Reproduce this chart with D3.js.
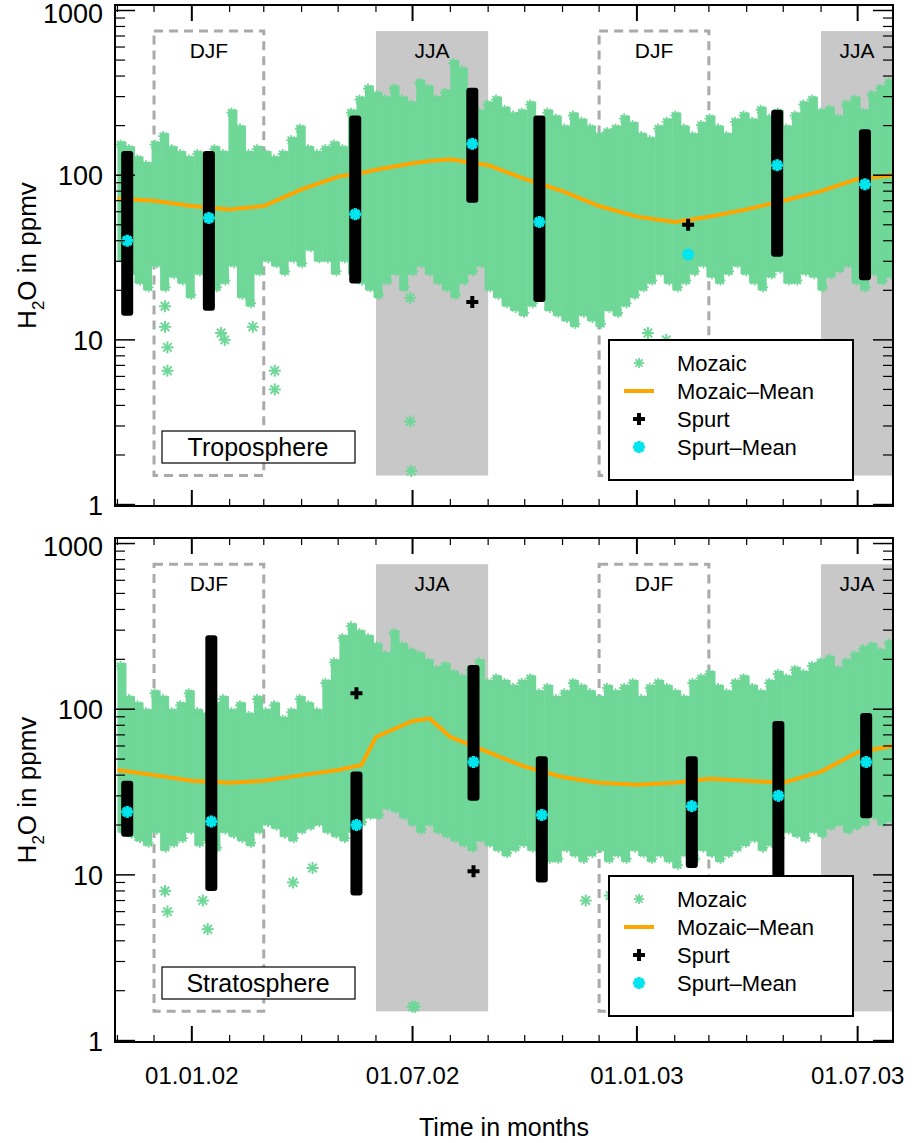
<!DOCTYPE html>
<meta charset="utf-8">
<script src="https://d3js.org/d3.v7.min.js"></script>
<style>
  body { margin: 0; background: #fff; }
  text { font-family: "Liberation Sans", Arial, sans-serif; }
</style>
<div id="chart"></div>
<script>
// ---- data ----
const weekStart = "2001-11-01"; // Mozaic columns are weekly from this date
const tropLow  = [30,25,22,20,28,20,24,22,18,25,16,20,22,28,18,16,25,30,28,25,30,28,35,30,30,25,30,25,22,20,18,22,25,20,25,28,25,22,20,18,22,25,28,20,18,16,15,14,16,18,15,14,13,12,14,13,12,15,14,16,18,20,22,25,22,20,22,25,28,24,22,25,28,25,22,20,24,26,22,22,25,24,20,24,26,28,22,20,25,22,24];
const tropHigh = [160,150,130,120,160,180,150,140,130,140,130,150,140,250,200,140,150,140,130,140,170,200,150,140,150,160,150,250,300,350,320,300,350,300,280,380,350,300,330,500,450,300,250,280,300,260,240,250,280,220,250,230,200,240,220,200,180,190,200,230,210,180,170,200,220,240,200,180,210,230,200,180,220,240,220,260,230,250,200,240,280,300,250,260,230,280,300,250,320,350,380];
const stratLow  = [18,17,16,15,18,14,15,16,18,15,16,14,18,17,16,15,18,20,19,17,16,18,19,20,18,17,16,18,20,22,22,25,24,22,20,18,20,18,17,16,15,14,16,15,14,13,14,15,14,13,12,12,14,13,12,13,14,12,13,12,14,13,12,13,12,11,13,12,14,13,12,13,14,15,16,14,15,16,18,17,16,18,17,19,20,18,19,20,22,20,21];
const stratHigh = [190,120,110,100,130,120,100,110,130,100,95,110,120,100,110,95,120,100,110,90,100,120,110,100,150,200,280,330,300,280,250,220,300,250,230,220,200,180,190,170,160,180,200,150,160,150,140,150,160,130,140,120,130,150,140,130,120,140,130,140,150,120,140,150,140,130,120,150,160,170,140,130,150,160,140,130,150,170,160,180,170,190,200,210,180,200,220,240,250,230,260];

// isolated Mozaic points: [date, value]
const tropOutliers  = [["2001-12-10",16],["2001-12-10",12],["2001-12-12",9],["2001-12-12",6.5],["2002-01-25",11],["2002-01-28",10],["2002-03-10",6.5],["2002-03-10",5],["2002-02-20",12],["2002-06-29",3.2],["2002-06-30",1.6],["2002-06-29",18],["2003-01-10",11],["2003-01-25",10]];
const stratOutliers = [["2001-12-10",8],["2001-12-12",6],["2002-01-14",4.7],["2002-01-10",7],["2002-03-25",9],["2002-04-10",11],["2002-07-01",1.6],["2002-07-03",1.6],["2002-11-20",7],["2002-12-10",7.5],["2003-02-01",8]];

// Spurt campaigns: date, min, max, mean
const tropSpurt = [
  ["2001-11-09",14,140,40],["2002-01-15",15,140,55],["2002-05-15",22,230,58],
  ["2002-08-19",68,340,155],["2002-10-13",17,230,52],["2003-04-26",32,250,115],["2003-07-07",23,190,88]];
const tropSpurtPts  = [["2002-08-19",17],["2003-02-12",50]];
const tropSpurtMeanPts = [["2003-02-12",33]];
const stratSpurt = [
  ["2001-11-09",17,37,24],["2002-01-17",8,280,21],["2002-05-16",7.5,42,20],
  ["2002-08-20",28,185,48],["2002-10-15",9,52,23],["2003-02-15",11,52,26],["2003-04-27",7,85,30],["2003-07-08",22,95,48]];
const stratSpurtPts = [["2002-05-16",125],["2002-08-20",10.5]];
const stratSpurtMeanPts = [];

// Mozaic mean, roughly every half month
const meanDates = ["2001-11-01","2001-12-01","2002-01-01","2002-02-01","2002-03-01","2002-04-01","2002-05-01","2002-05-20","2002-06-01","2002-07-01","2002-07-15","2002-08-01","2002-09-01","2002-10-01","2002-11-01","2002-12-01","2003-01-01","2003-02-01","2003-03-01","2003-04-01","2003-05-01","2003-06-01","2003-07-01","2003-07-30"];
const tropMean  = [72,70,65,62,65,82,98,103,108,118,122,125,115,95,80,65,56,52,56,62,70,80,95,100];
const stratMean = [43,40,37,36,37,40,43,46,68,85,88,68,55,45,39,36,35,36,38,37,36,42,55,60];

const seasons = [["DJF","2001-12-01","2002-03-01"],["JJA","2002-06-01","2002-09-01"],["DJF","2002-12-01","2003-03-01"],["JJA","2003-06-01","2003-09-01"]];
const xTickLabels = ["2002-01-01","2002-07-01","2003-01-01","2003-07-01"];
const yTicks = [1,10,100,1000];

// ---- drawing ----
const W = 920, H = 1143;
const left = 115, right = 893;
const parse = d3.timeParse("%Y-%m-%d");
const x = d3.scaleTime().domain([parse("2001-10-30"), parse("2003-07-30")]).range([left, right]);
const green = "#6fd797";

const svg = d3.select("#chart").append("svg").attr("width", W).attr("height", H);

function star(g, cx, cy, r, color, w) {
  for (let a = 0; a < 180; a += 45) {
    const t = a * Math.PI / 180;
    g.append("line").attr("x1", cx - r*Math.cos(t)).attr("y1", cy - r*Math.sin(t))
      .attr("x2", cx + r*Math.cos(t)).attr("y2", cy + r*Math.sin(t))
      .attr("stroke", color).attr("stroke-width", w);
  }
}

function panel(i, top, bottom, low, high, outliers, spurt, spurtPts, spurtMeanPts, mean, name) {
  const y = d3.scaleLog().domain([0.98, 1080]).range([bottom, top]);
  const g = svg.append("g");
  g.append("clipPath").attr("id", "clip" + i).append("rect")
    .attr("x", left).attr("y", top).attr("width", right-left).attr("height", bottom-top);
  const c = g.append("g").attr("clip-path", `url(#clip${i})`);

  // seasons
  seasons.forEach(([lab, a, b]) => {
    const x0 = x(parse(a)), x1 = x(parse(b));
    if (lab === "JJA") {
      c.append("rect").attr("x", x0).attr("y", y(750)).attr("width", x1-x0).attr("height", y(1.5)-y(750)).attr("fill", "#c8c8c8");
    } else {
      c.append("rect").attr("x", x0).attr("y", y(750)).attr("width", x1-x0).attr("height", y(1.5)-y(750))
        .attr("fill", "none").attr("stroke", "#aaa").attr("stroke-width", 3).attr("stroke-dasharray", "9,6");
    }
    c.append("text").attr("x", (x0+Math.min(x1, right))/2).attr("y", y(750)+27).attr("text-anchor", "middle")
      .attr("font-size", 21).text(lab);
  });

  // Mozaic columns
  const d0 = parse(weekStart);
  low.forEach((lo, k) => {
    const da = d3.timeDay.offset(d0, 7*k), db = d3.timeDay.offset(d0, 7*k+7);
    const xa = x(da), xb = x(db);
    c.append("rect").attr("x", xa).attr("y", y(high[k])).attr("width", xb-xa+0.5)
      .attr("height", y(lo)-y(high[k])).attr("fill", green);
    star(c, xa+3, y(high[k])+3, 5, green, 1.8);
    star(c, xb-3, y(lo)-3, 5, green, 1.8);
  });
  outliers.forEach(([d, v]) => star(c, x(parse(d)), y(v), 6, green, 2));

  // mean line
  c.append("path").datum(meanDates.map((d, k) => [parse(d), mean[k]]))
    .attr("d", d3.line().x(d => x(d[0])).y(d => y(d[1])))
    .attr("fill", "none").attr("stroke", "#ffa500").attr("stroke-width", 4);

  // Spurt
  spurt.forEach(([d, lo, hi, m]) => {
    const xx = x(parse(d));
    c.append("rect").attr("x", xx-6).attr("y", y(hi)).attr("width", 12).attr("height", y(lo)-y(hi))
      .attr("fill", "#000").attr("rx", 3);
    star(c, xx, y(m), 6, "#00e5ee", 3.5);
  });
  spurtPts.forEach(([d, v]) => {
    const xx = x(parse(d));
    c.append("path").attr("d", d3.symbol(d3.symbolCross, 80)()).attr("transform", `translate(${xx},${y(v)})`).attr("fill", "#000");
  });
  spurtMeanPts.forEach(([d, v]) => star(c, x(parse(d)), y(v), 6, "#00e5ee", 3.5));

  // frame & ticks
  g.append("rect").attr("x", left).attr("y", top).attr("width", right-left).attr("height", bottom-top)
    .attr("fill", "none").attr("stroke", "#000").attr("stroke-width", 2);
  const minor = [];
  for (let e = 0; e < 3; e++) for (let m = 2; m < 10; m++) minor.push(m * Math.pow(10, e));
  [[left, 1], [right, -1]].forEach(([ax, s]) => {
    yTicks.forEach(v => g.append("line").attr("x1", ax).attr("x2", ax + s*20).attr("y1", y(v)).attr("y2", y(v)).attr("stroke", "#000").attr("stroke-width", 1.5));
    minor.forEach(v => g.append("line").attr("x1", ax).attr("x2", ax + s*10).attr("y1", y(v)).attr("y2", y(v)).attr("stroke", "#000").attr("stroke-width", 1.2));
  });
  yTicks.forEach(v => g.append("text").attr("x", left-12).attr("y", y(v) + (v === 1000 ? 12 : 10)).attr("text-anchor", "end")
    .attr("font-size", 27).text(v));
  const months = d3.timeMonth.range(parse("2001-11-01"), parse("2003-07-31"));
  [[bottom, -1], [top, 1]].forEach(([ay, s]) => {
    months.forEach(mo => {
      const major = mo.getMonth() === 0 || mo.getMonth() === 6;
      g.append("line").attr("x1", x(mo)).attr("x2", x(mo)).attr("y1", ay).attr("y2", ay + s*(major ? 16 : 7))
        .attr("stroke", "#000").attr("stroke-width", major ? 2 : 1.2);
    });
  });

  // y title
  const yt = g.append("text").attr("transform", `translate(36,${(top+bottom)/2}) rotate(-90)`)
    .attr("text-anchor", "middle").attr("font-size", 26);
  yt.append("tspan").text("H");
  yt.append("tspan").attr("font-size", 17).attr("dy", 8).text("2");
  yt.append("tspan").attr("dy", -8).text("O in ppmv");

  // name box
  g.append("rect").attr("x", 162).attr("y", bottom-75).attr("width", 193).attr("height", 32)
    .attr("fill", "#fff").attr("stroke", "#000").attr("stroke-width", 1.2);
  g.append("text").attr("x", 258).attr("y", bottom-50).attr("text-anchor", "middle").attr("font-size", 25).text(name);

  // legend
  const lx = 609, ly = bottom - 166;
  g.append("rect").attr("x", lx).attr("y", ly).attr("width", 244).attr("height", 140)
    .attr("fill", "#fff").attr("stroke", "#000").attr("stroke-width", 2);
  const items = ["Mozaic", "Mozaic\u2013Mean", "Spurt", "Spurt\u2013Mean"];
  items.forEach((t, k) => {
    const yy = ly + 23 + k*28;
    g.append("text").attr("x", lx+68).attr("y", yy+8).attr("font-size", 22).text(t);
    if (k === 0) star(g, lx+30, yy, 5, green, 1.8);
    if (k === 1) g.append("line").attr("x1", lx+15).attr("x2", lx+45).attr("y1", yy).attr("y2", yy).attr("stroke", "#ffa500").attr("stroke-width", 4);
    if (k === 2) g.append("path").attr("d", d3.symbol(d3.symbolCross, 80)()).attr("transform", `translate(${lx+30},${yy})`).attr("fill", "#000");
    if (k === 3) star(g, lx+30, yy, 6, "#00e5ee", 3.5);
  });
}

panel(0, 5, 506, tropLow, tropHigh, tropOutliers, tropSpurt, tropSpurtPts, tropSpurtMeanPts, tropMean, "Troposphere");
panel(1, 538, 1042, stratLow, stratHigh, stratOutliers, stratSpurt, stratSpurtPts, stratSpurtMeanPts, stratMean, "Stratosphere");

xTickLabels.forEach(d => svg.append("text").attr("x", x(parse(d))).attr("y", 1084).attr("text-anchor", "middle")
  .attr("font-size", 24).text(d3.timeFormat("%d.%m.%y")(parse(d))));
svg.append("text").attr("x", 504).attr("y", 1136).attr("text-anchor", "middle").attr("font-size", 25).text("Time in months");
</script>
